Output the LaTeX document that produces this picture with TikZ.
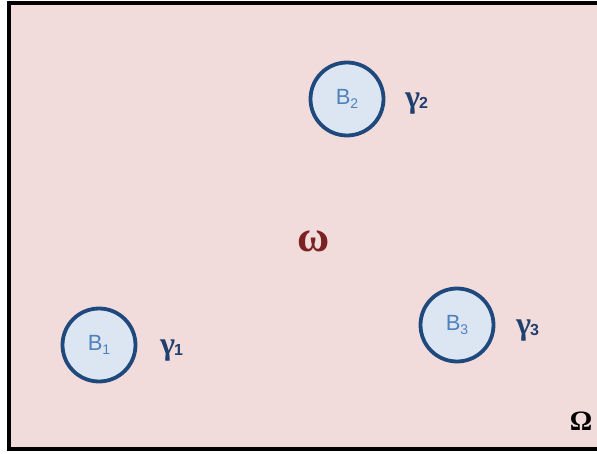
\documentclass[tikz,border=0pt]{standalone}
\usepackage{fontspec}
\setmainfont{Liberation Serif}
\newfontfamily\arialf{Liberation Sans}
\definecolor{bgpink}{HTML}{F2DCDB}
\definecolor{cfill}{HTML}{DCE6F2}
\definecolor{cdraw}{HTML}{1F497D}
\definecolor{btext}{HTML}{4F81BD}
\definecolor{gtext}{HTML}{1F3F6E}
\definecolor{otext}{HTML}{7B2323}
\newcommand{\bsub}[1]{\raisebox{-4pt}{\fontsize{14}{14}\selectfont #1}}
\newcommand{\gsub}[1]{\kern-1pt\raisebox{-1pt}{\arialf\bfseries\fontsize{16}{16}\selectfont #1}}
\begin{document}
\begin{tikzpicture}[x=1pt,y=1pt,
  ball/.style={circle,minimum size=73pt,inner sep=0pt,fill=cfill,draw=cdraw,line width=3.8pt,text=btext,font=\arialf\fontsize{22}{22}\selectfont},
  gam/.style={text=gtext,font=\bfseries\fontsize{32}{32}\selectfont,inner sep=0pt},
]
\clip (0,0) rectangle (597,453);
\path[fill=bgpink,draw=black,line width=4pt] (9,4.5) rectangle (610,449.5);
\node[ball] (b2) at (347,354) {B\bsub{2}};
\node[ball] (b1) at (99,108) {B\bsub{1}};
\node[ball] (b3) at (457,128) {B\bsub{3}};
\node[gam,anchor=base west] (g2) at (405,345) {γ\gsub{2}};
\node[gam,anchor=base west] (g1) at (160,99) {γ\gsub{1}};
\node[gam,anchor=base west] (g3) at (516,119) {γ\gsub{3}};
\node[text=otext,font=\bfseries\fontsize{44}{44}\selectfont,inner sep=0pt] (om) at (314,212) {ω};
\node[font=\bfseries\fontsize{28}{28}\selectfont,inner sep=0pt,anchor=base] (OM) at (581,23) {Ω};
\end{tikzpicture}
\end{document}
